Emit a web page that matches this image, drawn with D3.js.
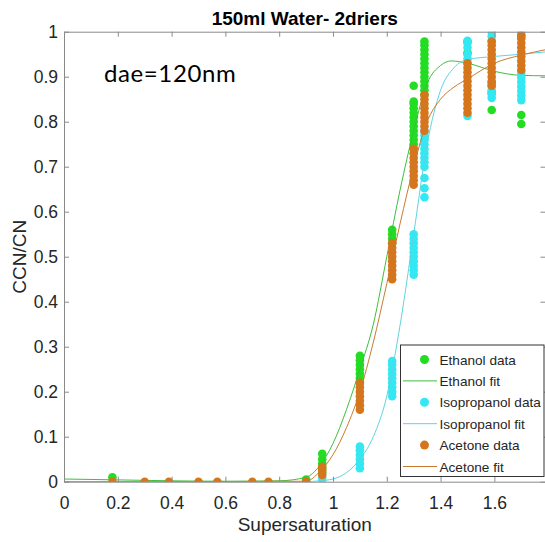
<!DOCTYPE html>
<html>
<head>
<meta charset="utf-8">
<script src="https://cdn.jsdelivr.net/npm/d3@7"></script>
<style>
  body { margin: 0; background: #fff; }
  svg { display: block; }
</style>
</head>
<body>
<div id="chart"></div>
<script>
// measured columns: [supersaturation, [CCN/CN values]]
const ethanolData = [
  [0.18, [0.01]],
  [0.90, [0.005]],
  [0.96, [0.02, 0.03, 0.04, 0.05, 0.062]],
  [1.10, [0.22, 0.23, 0.24, 0.25, 0.26, 0.27, 0.28]],
  [1.22, [0.53, 0.54, 0.55, 0.56]],
  [1.30, [0.74, 0.75, 0.76, 0.77, 0.78, 0.79, 0.80, 0.81, 0.82, 0.83, 0.84, 0.845, 0.88]],
  [1.34, [0.86, 0.87, 0.88, 0.89, 0.90, 0.91, 0.92, 0.93, 0.94, 0.95, 0.96, 0.97, 0.978]],
  [1.50, [0.953, 0.978]],
  [1.59, [0.826, 0.864, 0.886]],
  [1.70, [0.795, 0.815]]
];
const isopropanolData = [
  [0.96, [0.0, 0.008]],
  [1.10, [0.03, 0.04, 0.05, 0.06, 0.07, 0.078]],
  [1.22, [0.19, 0.20, 0.21, 0.22, 0.23, 0.24, 0.25, 0.26, 0.268]],
  [1.30, [0.46, 0.47, 0.48, 0.49, 0.50, 0.51, 0.52, 0.53, 0.54, 0.55]],
  [1.34, [0.632, 0.652, 0.675, 0.70, 0.71, 0.72, 0.73, 0.74, 0.75, 0.76, 0.77, 0.778]],
  [1.50, [0.813, 0.93, 0.94, 0.95, 0.965, 0.975, 0.98]],
  [1.59, [0.853, 0.862, 0.87, 0.88, 0.98, 0.99, 1.0]],
  [1.70, [0.848, 0.858, 0.868, 0.878, 0.888, 0.898, 0.908, 0.99, 1.0]]
];
const acetoneData = [
  [0.18, [0]], [0.30, [0]], [0.39, [0]], [0.50, [0]],
  [0.57, [0]], [0.70, [0]], [0.76, [0]], [0.90, [0]],
  [0.96, [0.015, 0.025, 0.033]],
  [1.10, [0.16, 0.17, 0.18, 0.19, 0.20, 0.21, 0.22]],
  [1.22, [0.45, 0.46, 0.47, 0.48, 0.49, 0.50, 0.51, 0.52, 0.53]],
  [1.30, [0.66, 0.67, 0.68, 0.69, 0.70, 0.71, 0.72, 0.73, 0.74]],
  [1.34, [0.78, 0.79, 0.80, 0.81, 0.82, 0.83, 0.84, 0.85, 0.86]],
  [1.50, [0.82, 0.83, 0.84, 0.85, 0.86, 0.87, 0.88, 0.89, 0.90, 0.91, 0.92, 0.93]],
  [1.59, [0.88, 0.89, 0.90, 0.91, 0.92, 0.93, 0.94, 0.95, 0.96, 0.97, 0.978]],
  [1.70, [0.915, 0.925, 0.935, 0.945, 0.955, 0.965, 0.975, 0.985, 0.992]]
];

// fitted curves: [x, y]
const ethanolFit = [[0, 0.006], [0.2, 0.004], [0.4, 0.002], [0.6, 0.001], [0.8, 0.002],
  [0.9, 0.01], [0.95, 0.035], [1.0, 0.085], [1.05, 0.16], [1.1, 0.25], [1.15, 0.35],
  [1.2, 0.5], [1.25, 0.65], [1.3, 0.78], [1.35, 0.885], [1.4, 0.925], [1.44, 0.935],
  [1.5, 0.93], [1.6, 0.912], [1.7, 0.903], [1.79, 0.902]];
const isopropanolFit = [[0, 0], [0.9, 0], [0.95, 0.002], [1.0, 0.006], [1.05, 0.02],
  [1.1, 0.05], [1.15, 0.1], [1.2, 0.19], [1.25, 0.35], [1.3, 0.55], [1.35, 0.75],
  [1.4, 0.87], [1.45, 0.92], [1.5, 0.938], [1.6, 0.945], [1.7, 0.95], [1.79, 0.955]];
const acetoneFit = [[0, 0], [0.9, 0.001], [0.95, 0.022], [1.0, 0.06], [1.05, 0.12],
  [1.1, 0.2], [1.15, 0.31], [1.2, 0.44], [1.25, 0.575], [1.3, 0.70], [1.35, 0.8],
  [1.4, 0.85], [1.45, 0.877], [1.5, 0.895], [1.6, 0.93], [1.7, 0.948], [1.79, 0.96]];

const xTicks = [0, 0.2, 0.4, 0.6, 0.8, 1, 1.2, 1.4, 1.6];
const yTicks = [0, 0.1, 0.2, 0.3, 0.4, 0.5, 0.6, 0.7, 0.8, 0.9, 1];

const green = "#22dd22", cyan = "#33e8f2", orange = "#d6761c";
const series = [
  { name: "Ethanol", data: ethanolData, fit: ethanolFit, color: green, line: "#3cbf3c" },
  { name: "Isopropanol", data: isopropanolData, fit: isopropanolFit, color: cyan, line: "#5fd3e0" },
  { name: "Acetone", data: acetoneData, fit: acetoneFit, color: orange, line: "#c97a2e" }
];

const W = 545, H = 542;
const margin = { left: 64, top: 31.7, right: -0.5, bottom: 60.3 };
const txt = "#262626", axisCol = "#8a8a8a";
const font = "'Liberation Sans', Arial, sans-serif";

const svg = d3.select("#chart").append("svg")
  .attr("width", W).attr("height", H)
  .style("font-family", font);

const x = d3.scaleLinear().domain([0, 1.79]).range([margin.left, W - margin.right]);
const y = d3.scaleLinear().domain([0, 1]).range([H - margin.bottom, margin.top]);

svg.append("defs").append("clipPath").attr("id", "clip")
  .append("rect").attr("x", margin.left).attr("y", margin.top)
  .attr("width", x.range()[1] - margin.left).attr("height", y(0) - margin.top);

const plot = svg.append("g").attr("clip-path", "url(#clip)");

const line = d3.line().x(d => x(d[0])).y(d => y(d[1])).curve(d3.curveMonotoneX);

series.forEach(s => {
  const pts = [];
  s.data.forEach(([sx, ys]) => ys.forEach(v => pts.push([sx, v])));
  plot.append("g").selectAll("circle").data(pts).enter().append("circle")
    .attr("cx", d => x(d[0])).attr("cy", d => y(d[1]))
    .attr("r", 4.3).attr("fill", s.color);
  plot.append("path").datum(s.fit)
    .attr("d", line).attr("fill", "none")
    .attr("stroke", s.line).attr("stroke-width", 1);
});

// axes, ticks pointing inward on all four sides
function styleAxis(g) {
  g.selectAll(".domain").attr("stroke", axisCol);
  g.selectAll(".tick line").attr("stroke", axisCol);
  g.selectAll("text").attr("fill", txt).style("font-size", "17.5px").style("font-family", font);
}
svg.append("g").attr("transform", `translate(0,${y(0)})`)
  .call(d3.axisBottom(x).tickValues(xTicks).tickFormat(d3.format("")).tickSizeInner(-5).tickSizeOuter(0).tickPadding(15))
  .call(styleAxis);
svg.append("g").attr("transform", `translate(0,${y(1)})`)
  .call(d3.axisTop(x).tickValues(xTicks).tickFormat("").tickSizeInner(-5).tickSizeOuter(0))
  .call(styleAxis);
svg.append("g").attr("transform", `translate(${margin.left},0)`)
  .call(d3.axisLeft(y).tickValues(yTicks).tickFormat(d3.format("")).tickSizeInner(-5).tickSizeOuter(0).tickPadding(6))
  .call(styleAxis);
svg.append("g").attr("transform", `translate(${x.range()[1]},0)`)
  .call(d3.axisRight(y).tickValues(yTicks).tickFormat("").tickSizeInner(-5).tickSizeOuter(0))
  .call(styleAxis);

svg.append("text").attr("x", (margin.left + x.range()[1]) / 2).attr("y", 25)
  .attr("text-anchor", "middle").attr("fill", "#000")
  .style("font-weight", "bold").style("font-size", "19px")
  .text("150ml Water- 2driers");

svg.append("text").attr("x", (margin.left + x.range()[1]) / 2).attr("y", 531)
  .attr("text-anchor", "middle").attr("fill", txt).style("font-size", "19px")
  .text("Supersaturation");

svg.append("text")
  .attr("transform", `translate(26,${(y(0) + y(1)) / 2}) rotate(-90)`)
  .attr("text-anchor", "middle").attr("fill", txt).style("font-size", "19px")
  .text("CCN/CN");

svg.append("text").attr("x", 104).attr("y", 82)
  .attr("fill", "#000").style("font-family", "Lato, 'Open Sans', sans-serif")
  .style("font-size", "24px").style("letter-spacing", "0.6px").text("dae=120nm");

// legend
const lg = svg.append("g");
lg.append("rect").attr("x", 400.5).attr("y", 345).attr("width", 143.5).attr("height", 131.5)
  .attr("fill", "#fff").attr("stroke", "#333").attr("stroke-width", 1);
const rows = [];
series.forEach(s => {
  rows.push({ label: s.name + " data", kind: "dot", color: s.color });
  rows.push({ label: s.name + " fit", kind: "line", color: s.line });
});
rows.forEach((r, i) => {
  const cy = 359.5 + i * 21.4;
  if (r.kind === "dot") {
    lg.append("circle").attr("cx", 424.5).attr("cy", cy).attr("r", 4.5).attr("fill", r.color);
  } else {
    lg.append("line").attr("x1", 403).attr("x2", 437).attr("y1", cy).attr("y2", cy)
      .attr("stroke", r.color).attr("stroke-width", 1);
  }
  lg.append("text").attr("x", 439.5).attr("y", cy + 5).attr("fill", txt)
    .style("font-size", "13.6px").text(r.label);
});
</script>
</body>
</html>
